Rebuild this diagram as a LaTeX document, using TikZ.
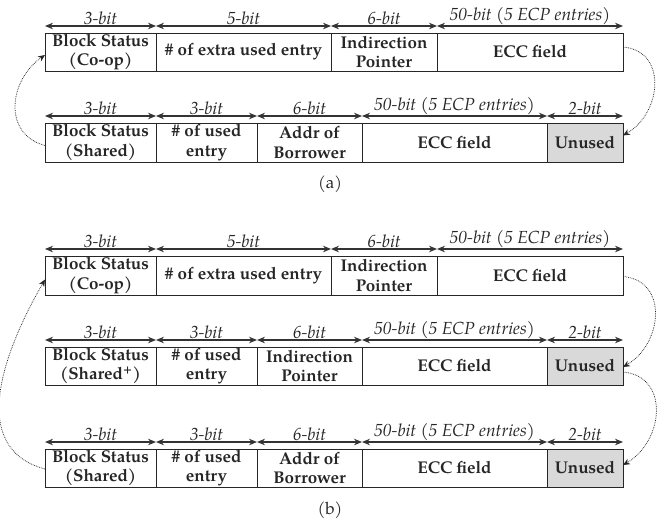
\documentclass[tikz,border=0pt]{standalone}
\usepackage{fontspec}
\setmainfont{TeX Gyre Pagella}
\usetikzlibrary{arrows.meta}

% one field of a block layout: name, left x, right x, top y, bottom y, text
\newcommand\fieldbox[7][]{%
  \node[field,#1, minimum width={#4-#3}, minimum height={#6-#5}]
    (#2) at ({(#3+#4)/2},{-(#5+#6)/2}) {#7};}
% bit-width span drawn above a field
\newcommand\bitspan[2]{%
  \draw[dim] ([yshift=7pt]#1.north west) -- ([yshift=7pt]#1.north east)
    node[midway, bitlabel] {#2};}

\begin{document}
\begin{tikzpicture}[x=1pt,y=1pt,
  field/.style={draw=black!85, line width=0.9pt, inner sep=0pt, outer sep=0pt,
    align=center, text=black!85,
    font=\fontsize{17}{19.5}\selectfont\bfseries},
  unused/.style={fill=black!15},
  dim/.style={draw=black!80, line width=1.2pt,
    {Stealth[length=8pt,width=6.5pt]}-{Stealth[length=8pt,width=6.5pt]}},
  bitlabel/.style={above, inner sep=0.5pt, text=black!85,
    font=\fontsize{17.5}{19}\selectfont\itshape},
  link/.style={draw=black!85, line width=0.75pt, densely dotted,
    -{Stealth[length=7pt,width=6pt]}},
  caption/.style={font=\fontsize{17}{19}\selectfont, text=black!85}]

\useasboundingbox (0,0) rectangle (660,-525);

% ---------- (a) ----------
\fieldbox{aa1}{45}{156}{33}{71}{Block Status\\(Co-op)}
\fieldbox{aa2}{156}{331}{33}{71}{\# of extra used entry}
\fieldbox{aa3}{331}{437}{33}{71}{Indirection\\Pointer}
\fieldbox{aa4}{437}{623}{33}{71}{ECC field}
\bitspan{aa1}{3-bit}
\bitspan{aa2}{5-bit}
\bitspan{aa3}{6-bit}
\bitspan{aa4}{50-bit (5 ECP entries)}

\fieldbox{ab1}{45}{156}{123}{162}{Block Status\\(Shared)}
\fieldbox{ab2}{156}{257}{123}{162}{\# of used\\entry}
\fieldbox{ab3}{257}{362}{123}{162}{Addr of\\Borrower}
\fieldbox{ab4}{362}{547}{123}{162}{ECC field}
\fieldbox[unused]{ab5}{547}{623}{123}{162}{Unused}
\bitspan{ab1}{3-bit}
\bitspan{ab2}{3-bit}
\bitspan{ab3}{6-bit}
\bitspan{ab4}{50-bit (5 ECP entries)}
\bitspan{ab5}{2-bit}

\draw[link] ([yshift=-3pt]ab1.west) to[out=165, in=215, looseness=1.25] ([yshift=-3pt]aa1.west);
\draw[link] ([yshift=5pt]aa4.east) to[out=-5, in=30, looseness=1.3] ([yshift=7pt]ab5.east);

\node[caption] (capa) at (330,-184) {(a)};

% ---------- (b) ----------
\fieldbox{ba1}{45}{156}{256}{295}{Block Status\\(Co-op)}
\fieldbox{ba2}{156}{331}{256}{295}{\# of extra used entry}
\fieldbox{ba3}{331}{437}{256}{295}{Indirection\\Pointer}
\fieldbox{ba4}{437}{623}{256}{295}{ECC field}
\bitspan{ba1}{3-bit}
\bitspan{ba2}{5-bit}
\bitspan{ba3}{6-bit}
\bitspan{ba4}{50-bit (5 ECP entries)}

\fieldbox{bb1}{45}{156}{347}{385}{Block Status\\(Shared\textsuperscript{+})}
\fieldbox{bb2}{156}{257}{347}{385}{\# of used\\entry}
\fieldbox{bb3}{257}{362}{347}{385}{Indirection\\Pointer}
\fieldbox{bb4}{362}{547}{347}{385}{ECC field}
\fieldbox[unused]{bb5}{547}{623}{347}{385}{Unused}
\bitspan{bb1}{3-bit}
\bitspan{bb2}{3-bit}
\bitspan{bb3}{6-bit}
\bitspan{bb4}{50-bit (5 ECP entries)}
\bitspan{bb5}{2-bit}

\fieldbox{bc1}{45}{156}{449}{487}{Block Status\\(Shared)}
\fieldbox{bc2}{156}{257}{449}{487}{\# of used\\entry}
\fieldbox{bc3}{257}{362}{449}{487}{Addr of\\Borrower}
\fieldbox{bc4}{362}{547}{449}{487}{ECC field}
\fieldbox[unused]{bc5}{547}{623}{449}{487}{Unused}
\bitspan{bc1}{3-bit}
\bitspan{bc2}{3-bit}
\bitspan{bc3}{6-bit}
\bitspan{bc4}{50-bit (5 ECP entries)}
\bitspan{bc5}{2-bit}

\draw[link] ([yshift=-1pt]bc1.west) to[out=165, in=240, looseness=1.1] ([yshift=-4pt]ba1.west);
\draw[link] ([yshift=-1pt]ba4.east) to[out=-5, in=30, looseness=1.3] ([yshift=-1pt]bb5.east);
\draw[link] ([yshift=-6pt]bb5.east) to[out=-5, in=30, looseness=1.3] ([yshift=3pt]bc5.east);

\node[caption] (capb) at (330,-510) {(b)};
\end{tikzpicture}
\end{document}
